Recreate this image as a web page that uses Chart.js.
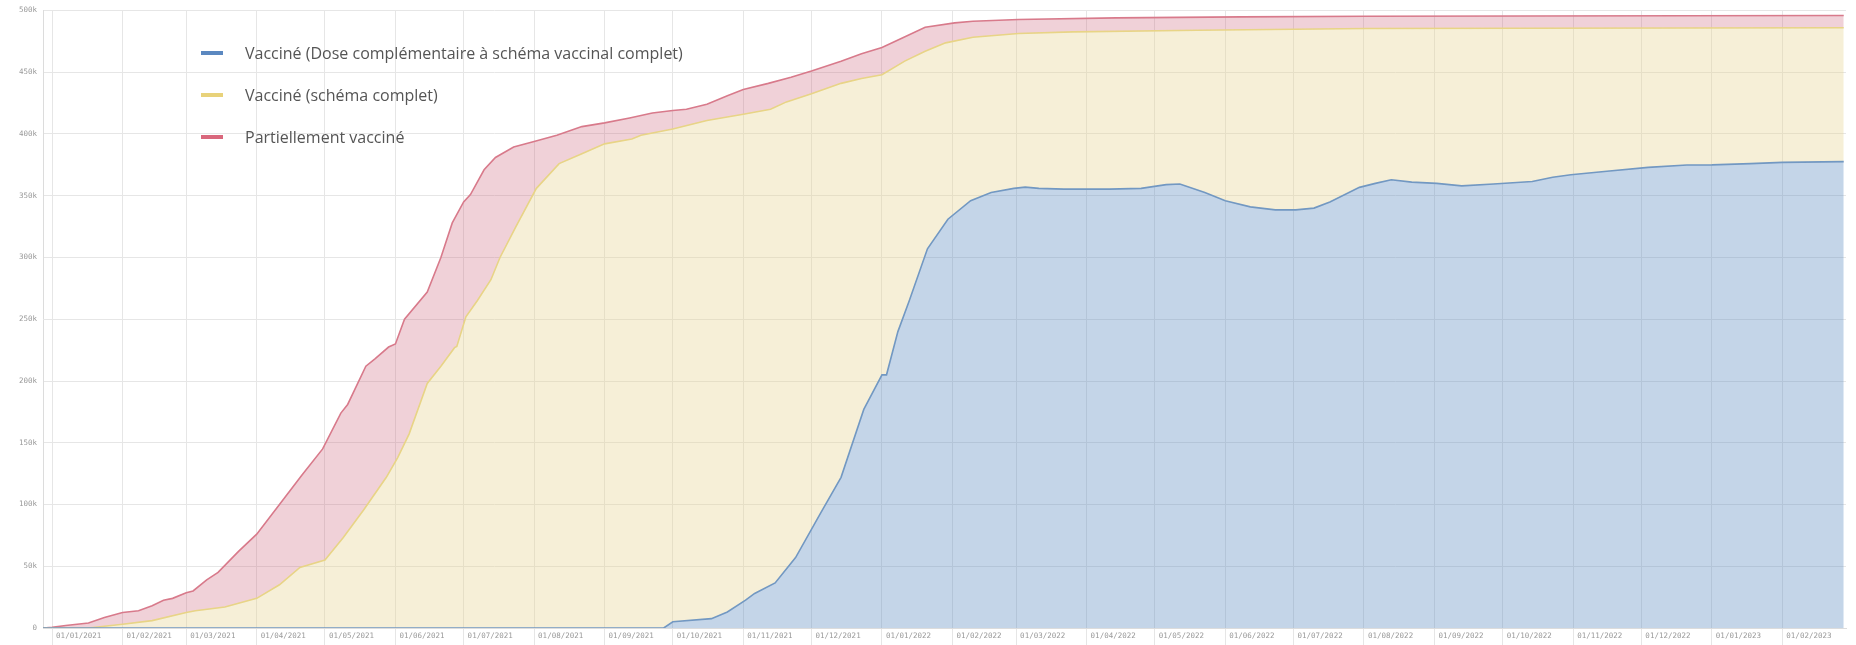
<!DOCTYPE html>
<html lang="fr">
<head>
  <meta charset="UTF-8" />
  <title>Vaccination - cumul</title>
  <style>
    body { margin: 0; background: #fff; }
    .chart-box { width: 1856px; height: 645px; position: relative; }
  </style>
</head>
<body>

<div class="chart-box">
  <canvas id="vaccChart"></canvas>
</div>

<script src="https://cdn.jsdelivr.net/npm/chart.js"></script>
<script>
  // series labels
  const seriesLabels = [
    'Vacciné (Dose complémentaire à schéma vaccinal complet)',
    'Vacciné (schéma complet)',
    'Partiellement vacciné'
  ];

  // booster dose (blue)
  const boosterDates = ['2020-12-28','2021-09-27','2021-10-01','2021-10-18','2021-10-25','2021-11-02','2021-11-06','2021-11-15',
    '2021-11-24','2021-12-05','2021-12-14','2021-12-24','2022-01-01','2022-01-03','2022-01-08','2022-01-13','2022-01-21',
    '2022-01-30','2022-02-09','2022-02-18','2022-02-28','2022-03-05','2022-03-11','2022-03-22','2022-04-11','2022-04-25',
    '2022-05-06','2022-05-12','2022-05-23','2022-06-01','2022-06-12','2022-06-23','2022-07-02','2022-07-10','2022-07-17',
    '2022-07-30','2022-08-06','2022-08-13','2022-08-22','2022-09-02','2022-09-13','2022-09-27','2022-10-14','2022-10-23',
    '2022-10-31','2022-11-17','2022-12-04','2022-12-21','2023-01-01','2023-01-18','2023-02-01','2023-02-28'];
  const boosterValues = [0,0,5000,7600,13000,22500,28000,36500,
    57000,93000,122000,177000,205000,205000,240000,265000,307000,
    331000,346000,352700,356000,357000,356000,355400,355400,356000,
    359000,359500,352700,346000,341000,338600,338600,340000,345000,
    356800,360000,363000,361000,360000,358000,359500,361600,365000,
    367000,370000,373000,374900,375000,376000,377000,377600];

  // complete schedule (yellow)
  const completeDates = ['2020-12-28','2021-01-17','2021-02-01','2021-02-14','2021-03-01','2021-03-05','2021-03-18','2021-04-01',
    '2021-04-11','2021-04-20','2021-05-01','2021-05-09','2021-05-18','2021-05-28','2021-06-02','2021-06-07','2021-06-15',
    '2021-06-21','2021-06-27','2021-06-28','2021-07-02','2021-07-07','2021-07-13','2021-07-17','2021-07-24','2021-08-02',
    '2021-08-12','2021-08-22','2021-09-01','2021-09-13','2021-09-17','2021-10-01','2021-10-16','2021-11-01','2021-11-13',
    '2021-11-20','2021-12-01','2021-12-14','2021-12-23','2022-01-01','2022-01-11','2022-01-20','2022-01-29','2022-02-10',
    '2022-03-02','2022-03-26','2022-05-20','2022-08-02','2023-02-28'];
  const completeValues = [0,0,3000,6000,12600,14000,17000,24000,
    35000,49000,55000,73000,95500,122000,138000,157000,198000,
    212000,227000,228000,252000,265000,282000,300000,325000,356000,
    376000,384000,392000,396000,399000,404000,411000,416000,420000,
    426000,432500,441000,445000,448000,459000,467000,473800,478400,
    481400,482700,484000,485400,486000];

  // at least one dose (red)
  const partialDates = ['2020-12-28','2021-01-01','2021-01-07','2021-01-17','2021-01-24','2021-02-01','2021-02-08','2021-02-14',
    '2021-02-19','2021-02-23','2021-03-01','2021-03-04','2021-03-10','2021-03-15','2021-03-24','2021-04-01','2021-04-11',
    '2021-04-21','2021-04-30','2021-05-08','2021-05-11','2021-05-19','2021-05-23','2021-05-29','2021-06-01','2021-06-05',
    '2021-06-15','2021-06-21','2021-06-26','2021-07-01','2021-07-04','2021-07-10','2021-07-15','2021-07-23','2021-08-01',
    '2021-08-11','2021-08-22','2021-09-01','2021-09-12','2021-09-22','2021-10-01','2021-10-07','2021-10-16','2021-10-25',
    '2021-11-01','2021-11-12','2021-11-22','2021-12-01','2021-12-14','2021-12-23','2022-01-01','2022-01-09','2022-01-20',
    '2022-02-02','2022-02-10','2022-03-02','2022-04-14','2022-06-08','2022-08-02','2023-02-28'];
  const partialValues = [0,500,2000,4000,8500,12600,14000,18000,
    22500,24000,28600,30000,39000,45000,62000,76000,100000,
    124000,145000,174000,181000,212000,218000,227500,230000,250000,
    272000,300000,328000,345000,351000,371000,381000,389500,394000,
    399000,406000,409000,413000,417000,419000,420000,424000,431000,
    436000,441000,446000,451000,459000,465000,470000,477000,486500,
    490000,491300,492700,494000,494800,495400,496000];

  // x tick labels (first day of each month)
  const monthStarts = ['2021-01-01','2021-02-01','2021-03-01','2021-04-01','2021-05-01','2021-06-01','2021-07-01',
    '2021-08-01','2021-09-01','2021-10-01','2021-11-01','2021-12-01','2022-01-01','2022-02-01','2022-03-01',
    '2022-04-01','2022-05-01','2022-06-01','2022-07-01','2022-08-01','2022-09-01','2022-10-01','2022-11-01',
    '2022-12-01','2023-01-01','2023-02-01'];
  const yTicks = [0, 50000, 100000, 150000, 200000, 250000, 300000, 350000, 400000, 450000, 500000];

  const DAY = 86400000;
  const ORIGIN = Date.UTC(2021, 0, 1);
  function dayOf(s) {
    const p = s.split('-').map(Number);
    return (Date.UTC(p[0], p[1] - 1, p[2]) - ORIGIN) / DAY;
  }
  function toPoints(dates, values) {
    return dates.map((d, i) => ({ x: dayOf(d), y: values[i] }));
  }
  const tickLabelByDay = {};
  monthStarts.forEach(s => {
    const p = s.split('-');
    tickLabelByDay[dayOf(s)] = p[2] + '/' + p[1] + '/' + p[0];
  });

  // legend drawn inside the plot, top-left
  const legendInside = {
    id: 'legendInside',
    afterDraw(chart) {
      const ctx = chart.ctx;
      ctx.save();
      ctx.font = '16px "Open Sans"';
      ctx.textBaseline = 'middle';
      chart.data.datasets.forEach((ds, i) => {
        const y = 53 + i * 42;
        ctx.fillStyle = ds.legendColor;
        ctx.fillRect(201, y - 2, 22, 4);
        ctx.fillStyle = '#555';
        ctx.fillText(ds.label, 245, y + 1);
      });
      ctx.restore();
    }
  };

  const ctx = document.getElementById('vaccChart').getContext('2d');
  new Chart(ctx, {
    type: 'line',
    data: {
      datasets: [
        {
          label: seriesLabels[0],
          data: toPoints(boosterDates, boosterValues),
          borderColor: '#7298c2',
          backgroundColor: 'rgba(100,145,195,0.38)',
          legendColor: '#5b88c0',
          fill: 'origin'
        },
        {
          label: seriesLabels[1],
          data: toPoints(completeDates, completeValues),
          borderColor: '#e8d486',
          backgroundColor: 'rgba(230,210,140,0.35)',
          legendColor: '#e8d27a',
          fill: '-1'
        },
        {
          label: seriesLabels[2],
          data: toPoints(partialDates, partialValues),
          borderColor: '#d87a8b',
          backgroundColor: 'rgba(200,90,115,0.28)',
          legendColor: '#d9677c',
          fill: '-1'
        }
      ]
    },
    options: {
      responsive: true,
      maintainAspectRatio: false,
      animation: false,
      layout: { padding: { top: 9, right: 10 } },
      elements: {
        line: { tension: 0, borderWidth: 1.6 },
        point: { radius: 0 }
      },
      plugins: {
        legend: { display: false },
        tooltip: { enabled: false }
      },
      scales: {
        x: {
          type: 'linear',
          min: -4,
          max: 789,
          afterBuildTicks: axis => { axis.ticks = monthStarts.map(s => ({ value: dayOf(s) })); },
          afterFit: axis => { axis.height = 17; },
          ticks: {
            autoSkip: false,
            maxRotation: 0,
            align: 'start',
            labelOffset: 4,
            padding: -13,
            color: '#999',
            font: { family: 'DejaVu Sans Mono', size: 7.5 },
            callback: v => tickLabelByDay[v] || ''
          },
          grid: { color: '#e6e6e6', tickLength: 17 },
          border: { color: '#dcdcdc' }
        },
        y: {
          min: 0,
          max: 500000,
          afterBuildTicks: axis => { axis.ticks = yTicks.map(v => ({ value: v })); },
          afterFit: axis => { axis.width = 43; },
          ticks: {
            color: '#999',
            padding: 6,
            font: { family: 'DejaVu Sans Mono', size: 7.5 },
            callback: v => v === 0 ? '0' : (v / 1000) + 'k'
          },
          grid: { color: '#e6e6e6', drawTicks: false },
          border: { color: '#dcdcdc' }
        }
      }
    },
    plugins: [legendInside]
  });
</script>

</body>
</html>
